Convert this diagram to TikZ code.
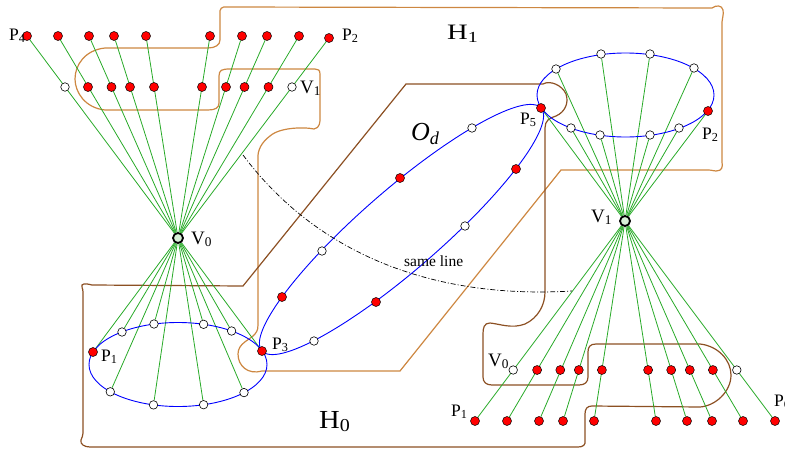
\documentclass[tikz,border=0pt]{standalone}
\usepackage{fontspec}
\usepackage{graphicx}
\setmainfont{Liberation Serif}
\usetikzlibrary{calc,backgrounds}
\definecolor{hone}{RGB}{205,135,65}
\definecolor{hzero}{RGB}{140,80,35}
\definecolor{gline}{RGB}{40,170,40}
\definecolor{vfill}{RGB}{215,240,215}
\begin{document}
\begin{tikzpicture}[x=1pt,y=-1pt,
  rdot/.style={circle,draw=black,line width=0.5pt,fill=red,minimum size=9pt,inner sep=0pt},
  wdot/.style={circle,draw=black,line width=0.6pt,fill=white,minimum size=8.5pt,inner sep=0pt},
  vnode/.style={circle,draw=black,line width=1.8pt,fill=vfill,minimum size=10pt,inner sep=0pt},
  gl/.style={draw=gline,line width=0.8pt},
  bl/.style={draw=blue,line width=0.9pt},
  hcurveone/.style={draw=hone,line width=1.2pt},
  hcurvezero/.style={draw=hzero,line width=1.2pt},
  plab/.style={font=\fontsize{17.5}{17.5}\selectfont,inner sep=0pt,anchor=base west},
  vlab/.style={font=\fontsize{19}{19}\selectfont,inner sep=0pt,anchor=base west},
  hlab/.style={inner sep=0pt,anchor=base west},
  samelab/.style={font=\fontsize{15.5}{15.5}\selectfont,inner sep=0pt,anchor=base west},
  slcurve/.style={draw=black,line width=0.7pt,dash pattern=on 5pt off 2pt on 1pt off 2pt}
]
\useasboundingbox (0,0) rectangle (785,450);

% ---------- top-left cluster (V0) ----------
\node[vnode] (V0) at (178,238) {};
\node[rdot] (t1) at (27,36) {};
\node[rdot] (t2) at (58,36) {};
\node[rdot] (t3) at (89,36) {};
\node[rdot] (t4) at (114,36) {};
\node[rdot] (t5) at (146,36) {};
\node[rdot] (t6) at (210,36) {};
\node[rdot] (t7) at (242,36) {};
\node[rdot] (t8) at (267,36) {};
\node[rdot] (t9) at (299,36) {};
\node[rdot] (t10) at (329,38) {};
\node[wdot] (m1) at (65,87) {};
\node[rdot] (m2) at (88,87) {};
\node[rdot] (m3) at (111.5,87) {};
\node[rdot] (m4) at (130,87) {};
\node[rdot] (m5) at (154,87) {};
\node[rdot] (m6) at (202,87) {};
\node[rdot] (m7) at (226,87) {};
\node[rdot] (m8) at (244.5,87) {};
\node[rdot] (m9) at (268.5,87) {};
\node[wdot] (m10) at (292,87) {};

% lower-left ellipse
\node[rdot] (p1) at (93,352) {};
\node[wdot] (e2) at (122,332) {};
\node[wdot] (e3) at (154,324) {};
\node[wdot] (e4) at (203.6,324.3) {};
\node[wdot] (e5) at (231.6,331) {};
\node[rdot] (p3) at (262,351) {};
\node[wdot] (e7) at (244,392.6) {};
\node[wdot] (e8) at (203.6,404.7) {};
\node[wdot] (e9) at (153.5,404.9) {};
\node[wdot] (e10) at (110.3,391.8) {};

% ---------- right cluster (V1) ----------
\node[vnode] (V1) at (625,221) {};
\node[rdot] (p5) at (541,108) {};
\node[wdot] (f2) at (556,69) {};
\node[wdot] (f3) at (601,54) {};
\node[wdot] (f4) at (650,54) {};
\node[wdot] (f5) at (694,68) {};
\node[rdot] (p2r) at (708,111) {};
\node[wdot] (f7) at (679,128) {};
\node[wdot] (f8) at (650,135) {};
\node[wdot] (f9) at (600,135) {};
\node[wdot] (f10) at (571,128) {};

\node[rdot] (b1) at (475,421) {};
\node[rdot] (b2) at (507,421) {};
\node[rdot] (b3) at (539,421) {};
\node[rdot] (b4) at (563,421) {};
\node[rdot] (b5) at (594,421) {};
\node[rdot] (b6) at (656,421) {};
\node[rdot] (b7) at (687,421) {};
\node[rdot] (b8) at (712,421) {};
\node[rdot] (b9) at (743,421) {};
\node[rdot] (b10) at (775,421) {};
\node[wdot] (n1) at (513.2,370) {};
\node[rdot] (n2) at (537.1,370) {};
\node[rdot] (n3) at (560.3,370) {};
\node[rdot] (n4) at (578.8,370) {};
\node[rdot] (n5) at (601.9,370) {};
\node[rdot] (n6) at (648.1,370) {};
\node[rdot] (n7) at (671.2,370) {};
\node[rdot] (n8) at (689.8,370) {};
\node[rdot] (n9) at (712.9,370) {};
\node[wdot] (n10) at (736.8,370) {};

% ---------- O_d points ----------
\node[wdot] (o1) at (472,128) {};
\node[rdot] (o2) at (400,178) {};
\node[wdot] (o3) at (322,251) {};
\node[rdot] (o4) at (282,297) {};
\node[wdot] (o5) at (314,341) {};
\node[rdot] (o6) at (376,302) {};
\node[wdot] (o7) at (465,226) {};
\node[rdot] (o8) at (516,169) {};

\coordinate (sl1) at (243,155);
\coordinate (sl2) at (572,291);

% ---------- labels ----------
\node[plab] (lP4) at (9,40) {P\textsubscript{4}};
\node[plab] (lP2a) at (342,40) {P\textsubscript{2}};
\node[vlab] (lV1a) at (300,93) {V\textsubscript{1}};
\node[vlab] (lV0a) at (191,244) {V\textsubscript{0}};
\node[plab] (lP1a) at (101,361) {P\textsubscript{1}};
\node[plab] (lP3) at (272,349) {P\textsubscript{3}};
\node[plab] (lP5) at (520,124) {P\textsubscript{5}};
\node[plab] (lP2b) at (702,139) {P\textsubscript{2}};
\node[vlab] (lV1b) at (591,222) {V\textsubscript{1}};
\node[vlab] (lV0b) at (488,366) {V\textsubscript{0}};
\node[plab] (lP1b) at (451,416) {P\textsubscript{1}};
\node[plab] (lP6) at (774,406) {P\textsubscript{6}};
\node[hlab] (lH1) at (447,39) {\scalebox{1.3}[1]{\fontsize{22}{22}\selectfont H\textsubscript{1}}};
\node[hlab] (lH0) at (319,428) {\scalebox{1.1}[1]{\fontsize{26}{26}\selectfont H\textsubscript{0}}};
\node[hlab] (lOd) at (411,140) {\fontsize{26}{26}\selectfont\textit{O}\textsubscript{\textit{d}}};
\node[samelab] (lsame) at (404,266) {same line};

\begin{scope}[on background layer]
% H1 boundary
\draw[hcurveone] (227,7) -- (712,8)
  .. controls (716,5) and (722,5) .. (723,10)
  .. controls (724,15) and (722,18) .. (722,22) -- (722,162)
  .. controls (723,167) and (722,171) .. (716,171)
  .. controls (713,171) and (712,170) .. (708,170) -- (561,170) -- (400,371) -- (262,371)
  .. controls (248,375) and (238,366) .. (238,354)
  .. controls (238,343) and (250,340) .. (255,334)
  .. controls (258,330) and (258,328) .. (258,325) -- (258,160)
  .. controls (257,150) and (262,142) .. (270,136)
  .. controls (280,127) and (305,127) .. (314,129)
  .. controls (320,128) and (320,122) .. (320,118) -- (320,74)
  .. controls (320,70) and (318,69) .. (315,69) -- (230,69)
  .. controls (222,69) and (219,70) .. (219,76) -- (219,103)
  .. controls (219,108) and (215,110) .. (208,110) -- (105,110)
  .. controls (85,108) and (75,92) .. (75,79)
  .. controls (75,65) and (85,50) .. (105,48) -- (208,48)
  .. controls (215,48) and (220,45) .. (220,40) -- (220,14)
  .. controls (219,9) and (222,6) .. (227,7) -- cycle;
% H0 boundary
\draw[hcurvezero] (92,285) -- (243,286) -- (406,84) -- (543,84)
  .. controls (550,80) and (562,85) .. (566,94)
  .. controls (569,103) and (565,112) .. (556,116)
  .. controls (549,118) and (545,121) .. (545,128) -- (545,292)
  .. controls (545,305) and (538,318) .. (525,324)
  .. controls (512,329) and (500,324) .. (490,323)
  .. controls (484,323) and (483,328) .. (483,334) -- (483,377)
  .. controls (483,382) and (486,385) .. (492,385) -- (579,385)
  .. controls (585,385) and (588,382) .. (588,377) -- (588,352)
  .. controls (588,347) and (590,344) .. (596,344) -- (700,344)
  .. controls (718,346) and (731,360) .. (731,375)
  .. controls (731,392) and (715,406) .. (700,407) -- (592,406)
  .. controls (587,406) and (585,409) .. (585,414) -- (585,440)
  .. controls (586,445) and (583,447) .. (578,447) -- (90,447)
  .. controls (84,447) and (80,444) .. (81,440)
  .. controls (82,437) and (83,436) .. (83,433) -- (83,292)
  .. controls (83,288) and (81,287) .. (82,285)
  .. controls (84,283) and (88,284) .. (92,285) -- cycle;

% green fans
\foreach \i in {1,...,10} \draw[gl] (V0) -- (t\i);
\foreach \n in {p1,e2,e3,e4,e5,p3,e7,e8,e9,e10} \draw[gl] (V0) -- (\n);
\foreach \n in {p5,f2,f3,f4,f5,p2r,f7,f8,f9,f10} \draw[gl] (V1) -- (\n);
\foreach \i in {1,...,10} \draw[gl] (V1) -- (b\i);

% blue ellipses
\draw[bl] (178,364.5) ellipse [x radius=89, y radius=42];
\draw[bl] (625.5,95) ellipse [x radius=88.5, y radius=42];
\draw[bl, rotate around={41:(401.5,229.5)}] (401.5,229.5) ellipse [x radius=185, y radius=40];

% same line
\draw[slcurve] (sl1) .. controls (310,245) and (420,300) .. (sl2);
\end{scope}
\end{tikzpicture}
\end{document}
